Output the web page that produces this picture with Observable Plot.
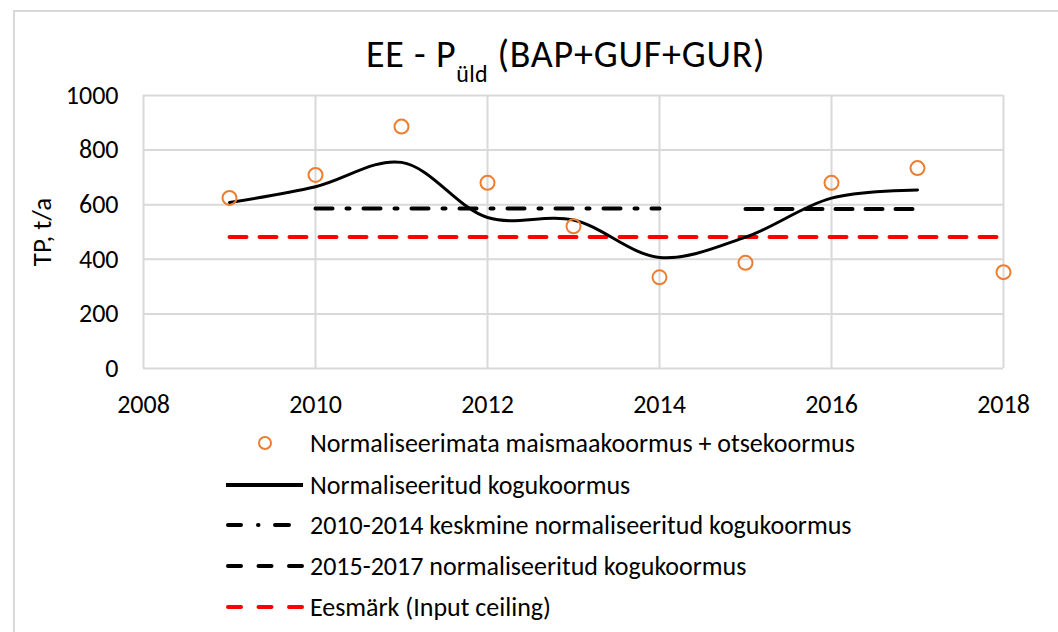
<!DOCTYPE html>
<html>
<head>
<meta charset="utf-8">
<script src="https://cdn.jsdelivr.net/npm/d3@7"></script>
<script src="https://cdn.jsdelivr.net/npm/@observablehq/plot@0.6"></script>
<style>
  html, body { margin: 0; padding: 0; background: #fff; }
  body { width: 1058px; height: 632px; position: relative; overflow: hidden; font-family: Carlito, Lato, "Open Sans", sans-serif; color: #000; }
  #frame { position: absolute; left: 13px; top: 10px; width: 1100px; height: 700px; border-left: 2px solid #d9d9d9; border-top: 2px solid #d9d9d9; }
  #title { position: absolute; left: 366px; top: 35px; font-size: 38px; line-height: 38px; letter-spacing: 0.8px; white-space: nowrap; color: #000; }
  #title .sub { font-size: 24px; position: relative; top: 15px; letter-spacing: 0.3px; }
  #ylabel { position: absolute; left: 41px; top: 232px; transform: translate(-50%, -50%) rotate(-90deg); font-size: 27px; white-space: nowrap; color: #000; }
  #chart { position: absolute; left: 0; top: 80px; }
  .leg { position: absolute; left: 220px; height: 34px; display: flex; align-items: center; font-size: 26px; white-space: nowrap; color: #000; }
  .leg svg { width: 90px; height: 30px; flex: none; }
</style>
</head>
<body>
<div id="frame"></div>
<div id="title">EE - P<span class="sub">üld</span> (BAP+GUF+GUR)</div>
<div id="ylabel">TP, t/a</div>
<div id="chart"></div>
<div id="legend"></div>
<script>
// ---- data ----
const years = [2009, 2010, 2011, 2012, 2013, 2014, 2015, 2016, 2017, 2018];
const unnormalized = [625, 709, 886, 680, 521, 334, 387, 680, 734, 353];
const normYears = [2009, 2010, 2011, 2012, 2013, 2014, 2015, 2016, 2017];
const normalized = [608, 666, 755, 553, 544, 407, 481, 624, 654];
const avg1014Years = [2010, 2014];
const avg1014Value = 586;
const avg1517Years = [2015, 2017];
const avg1517Value = 584;
const targetYears = [2009, 2018];
const targetValue = 482;
const xTicks = [2008, 2010, 2012, 2014, 2016, 2018];
const yTicks = [0, 200, 400, 600, 800, 1000];
const legendLabels = [
  "Normaliseerimata maismaakoormus + otsekoormus",
  "Normaliseeritud kogukoormus",
  "2010-2014 keskmine normaliseeritud kogukoormus",
  "2015-2017 normaliseeritud kogukoormus",
  "Eesmärk (Input ceiling)"
];

const pts = years.map((y, i) => ({year: y, value: unnormalized[i]}));
const norm = normYears.map((y, i) => ({year: y, value: normalized[i]}));
const avg1014 = avg1014Years.map(y => ({year: y, value: avg1014Value}));
const avg1517 = avg1517Years.map(y => ({year: y, value: avg1517Value}));
const target = targetYears.map(y => ({year: y, value: targetValue}));

const orange = "#ED7D31";
const red = "#FF0000";
const grid = "#d9d9d9";

const chart = Plot.plot({
  width: 1058,
  height: 340,
  marginTop: 15,
  marginBottom: 52,
  marginLeft: 143,
  marginRight: 55,
  style: {fontFamily: "Carlito, Lato, 'Open Sans', sans-serif", fontSize: "26px", color: "#000", background: "transparent"},
  x: {domain: [2008, 2018], label: null},
  y: {domain: [0, 1000], label: null},
  marks: [
    Plot.ruleX(xTicks, {stroke: grid, strokeWidth: 2}),
    Plot.ruleY(yTicks, {stroke: grid, strokeWidth: 2}),
    Plot.axisX({ticks: xTicks, tickSize: 0, tickPadding: 26, tickFormat: d => String(d), label: null}),
    Plot.axisY({ticks: yTicks, tickSize: 0, tickPadding: 25, tickFormat: d => String(d), label: null}),
    Plot.line(target, {x: "year", y: "value", stroke: red, strokeWidth: 4, strokeDasharray: "17,13"}),
    Plot.line(avg1014, {x: "year", y: "value", stroke: "#000", strokeWidth: 4, strokeDasharray: "17,14,3,14"}),
    Plot.line(avg1517, {x: "year", y: "value", stroke: "#000", strokeWidth: 4, strokeDasharray: "17,13"}),
    Plot.line(norm, {x: "year", y: "value", stroke: "#000", strokeWidth: 3, curve: "catmull-rom"}),
    Plot.dot(pts, {x: "year", y: "value", r: 7, stroke: orange, strokeWidth: 2, fill: "none"})
  ]
});
document.getElementById("chart").appendChild(chart);

// ---- legend ----
const rowsY = [443, 485, 525, 566, 607];
const samples = [
  `<circle cx="45" cy="15" r="6" fill="none" stroke="${orange}" stroke-width="2"/>`,
  `<line x1="6" x2="83" y1="15" y2="15" stroke="#000" stroke-width="4"/>`,
  `<line x1="8" x2="69" y1="15" y2="15" stroke="#000" stroke-width="4" stroke-linecap="round" stroke-dasharray="13,17,0.5,16.5,14,100"/>`,
  `<line x1="8" x2="82" y1="15" y2="15" stroke="#000" stroke-width="4" stroke-linecap="round" stroke-dasharray="13,17.5"/>`,
  `<line x1="8" x2="82" y1="15" y2="15" stroke="${red}" stroke-width="4" stroke-linecap="round" stroke-dasharray="13,17.5"/>`
];
const legend = document.getElementById("legend");
legendLabels.forEach((lab, i) => {
  const d = document.createElement("div");
  d.className = "leg";
  d.style.top = (rowsY[i] - 17) + "px";
  d.innerHTML = `<svg viewBox="0 0 90 30">${samples[i]}</svg><span>${lab}</span>`;
  legend.appendChild(d);
});
</script>
</body>
</html>
